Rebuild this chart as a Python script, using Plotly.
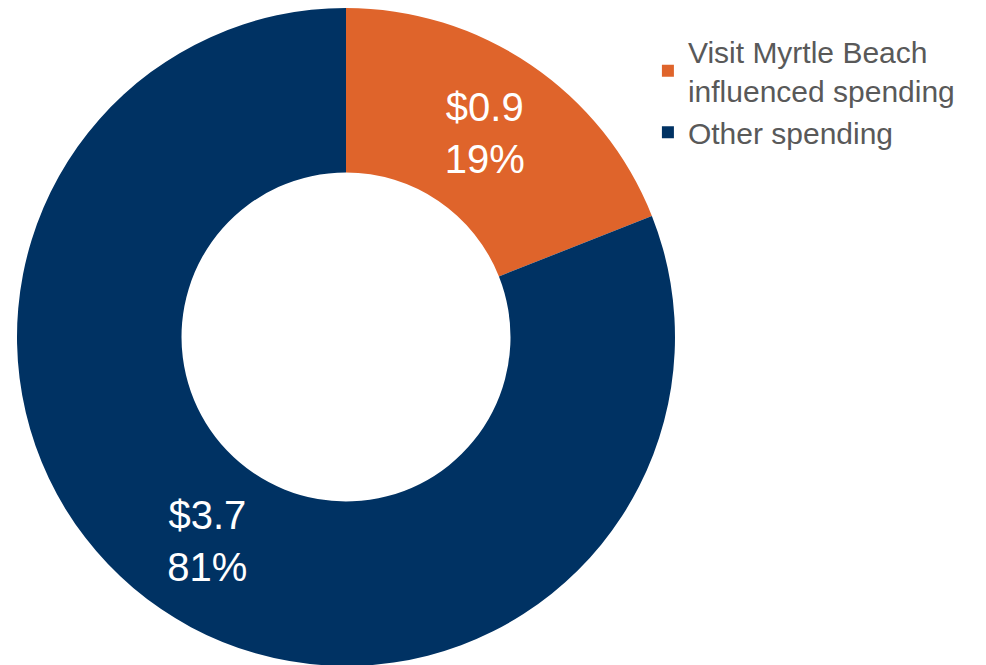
import plotly.graph_objects as go

categories = ["Visit Myrtle Beach<br>influenced spending", "Other spending"]
spending_billions = [0.9, 3.7]
share_pct = [19, 81]
colors = ["#DF642B", "#003263"]

texts = [f"${v:.1f}<br>{p}%" for v, p in zip(spending_billions, share_pct)]

fig = go.Figure(go.Pie(
    labels=categories,
    values=share_pct,
    text=texts,
    textinfo="text",
    hole=0.5,
    sort=False,
    direction="clockwise",
    rotation=0,
    marker=dict(colors=colors, line=dict(width=0)),
    textposition="inside",
    insidetextorientation="horizontal",
    textfont=dict(family="Liberation Sans, Arial", size=40, color="white"),
    domain=dict(x=[9/986, 667/986], y=[1-658/665, 1]),
))

fig.update_layout(
    width=986, height=665,
    margin=dict(l=0, r=0, t=0, b=0),
    paper_bgcolor="white",
    plot_bgcolor="white",
    showlegend=True,
    legend=dict(
        x=0.649, y=0.974, xanchor="left", yanchor="top",
        font=dict(family="Liberation Sans, Arial", size=30, color="#595959"),
        itemsizing="constant",
        tracegroupgap=0,
    ),
)

fig.write_html("out.html")
